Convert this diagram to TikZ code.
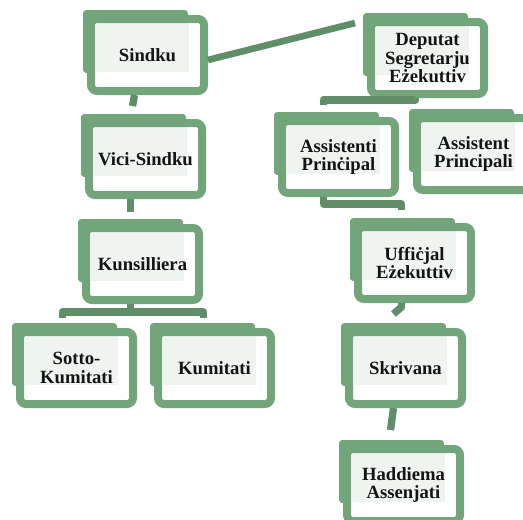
\documentclass[tikz,border=0pt]{standalone}
\usepackage{fontspec}
\setmainfont{Liberation Serif}
\usetikzlibrary{calc}
\definecolor{boxgreen}{RGB}{114,165,122}
\definecolor{conngreen}{RGB}{96,142,104}
\definecolor{greyarea}{RGB}{240,244,241}
\definecolor{txt}{RGB}{20,20,20}
\tikzset{
  frontbox/.style={draw=boxgreen, line width=6pt, rounded corners=4.5pt,
    minimum width=84.75pt, minimum height=54pt, inner sep=0pt, align=center,
    text=txt, font=\bfseries\fontsize{14}{14}\selectfont},
  backbox/.style={fill=boxgreen, rounded corners=2.5pt},
  conn/.style={draw=conngreen, line width=5.5pt, line join=round},
  diag/.style={draw=conngreen, line width=5pt}
}
\newcommand\orgbox[4]{%
  \begin{scope}[shift={(#2,#3)}]
    \fill[backbox] (-64.5,-45) rectangle (40.5,18);
    \fill[white, rounded corners=4.5pt] (-58,-38) rectangle (58,38);
    \fill[greyarea] (-51.5,-32) rectangle (41,17);
    \node[frontbox] (#1) at (0,0) {#4};
  \end{scope}}
\begin{document}
\begin{tikzpicture}[x=0.75pt, y=-0.75pt]
\useasboundingbox (0,0) rectangle (523,519);
\clip (0,0) rectangle (523,519);
\orgbox{sindku}{147.5}{55}{Sindku}
\orgbox{vici}{145.5}{159}{Vici-Sindku}
\orgbox{kuns}{142.5}{264}{Kunsilliera}
\orgbox{sotto}{76.5}{368}{Sotto-\\Kumitati}
\orgbox{kumitati}{214.5}{368}{Kumitati}
\orgbox{deputat}{427.5}{58}{Deputat\\Segretarju\\Eżekuttiv}
\orgbox{assistenti}{338.5}{157}{Assistenti\\Prinċipal}
\orgbox{assistent}{473.5}{154}{Assistent\\Principali}
\orgbox{uffi}{414.5}{263}{Uffiċjal\\Eżekuttiv}
\orgbox{skrivana}{405.5}{368}{Skrivana}
\orgbox{haddiema}{403.5}{485}{Haddiema\\Assenjati}
% connectors
\draw[diag] ($(sindku.east)+(0,5)$) -- ($(deputat.north west)+(-12,5)$);
\draw[conn] ($(sindku.south)+(-13,0)$) -- ($(vici.north)+(-13,-13)$);
\draw[conn] ($(vici.south)+(-15,0)$) -- ($(kuns.north)+(-12,-12)$);
\draw[conn] ($(kuns.south)+(-12,0)$) -- ++(0,8);
\draw[conn] ($(sotto.north)+(-14,-10)$) |- ($(kumitati.north)+(-11,-16)$) -- ($(kumitati.north)+(-11,-10)$);
\draw[conn] ($(deputat.south)+(-12,0)$) -- ++(0,2) -| ($(assistenti.north)+(-15,-12)$);
\draw[conn] ($(assistenti.south)+(-15,0)$) |- ($(uffi.north)+(-13,-19)$) -- ($(uffi.north)+(-13,-13)$);
\draw[conn] ($(uffi.south)+(-13,0)$) -- ++(0,4) -- ($(skrivana.north)+(-12,-14)$);
\draw[conn] ($(skrivana.south)+(-12,0)$) -- ($(haddiema.north)+(-13,-15)$);
\end{tikzpicture}
\end{document}
